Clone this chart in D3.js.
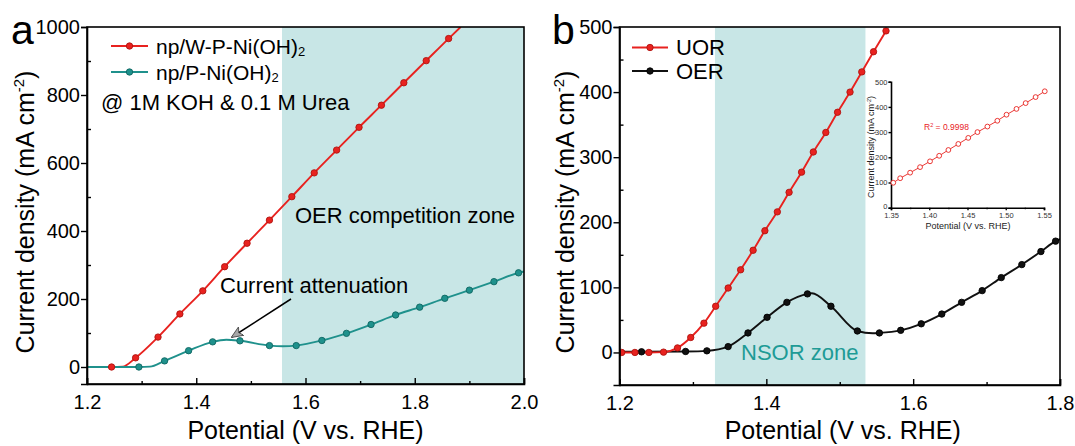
<!DOCTYPE html>
<html>
<head>
<meta charset="utf-8">
<script src="https://cdn.jsdelivr.net/npm/d3@7"></script>
<style>
  body { margin: 0; background: #fff; }
  svg { font-family: "Liberation Sans", Arial, sans-serif; }
  .domain { stroke: #000; stroke-width: 1.6; }
  .tick line { stroke: #000; stroke-width: 1.4; }
</style>
</head>
<body>
<script>
/*
DATA
*/
// panel a, np/W-P-Ni(OH)2 (red)
const aRedMarkV = [1.245, 1.289, 1.330, 1.370, 1.412, 1.452, 1.493, 1.534, 1.575, 1.616, 1.657, 1.698, 1.739, 1.780, 1.821, 1.862]
const aRedMarkJ = [0, 27, 88, 156, 224, 295, 364, 432, 501, 571, 638, 705, 770, 836, 901, 966]
const aRedLineV = [1.20, 1.265, 1.884]
const aRedLineJ = [0, 1, 1000]
// panel a, np/P-Ni(OH)2 (teal)
const aTealMarkV = [1.295, 1.342, 1.386, 1.430, 1.480, 1.534, 1.583, 1.630, 1.675, 1.720, 1.765, 1.809, 1.855, 1.900, 1.945, 1.990]
const aTealMarkJ = [0, 18, 48, 74, 77, 63, 63, 78, 99, 125, 153, 176, 202, 226, 251, 277]
const aTealLineV = [1.20, 1.315, 1.455, 1.558, 2.0]
const aTealLineJ = [0, 1, 80, 61, 281]

// panel b, UOR (red)
const bRedMarkV = [1.203, 1.221, 1.240, 1.260, 1.279, 1.297, 1.315, 1.331, 1.348, 1.365, 1.382, 1.398, 1.415, 1.431, 1.448, 1.464, 1.481, 1.497, 1.514, 1.530, 1.546, 1.563]
const bRedMarkJ = [0, 0, 0, 0.5, 7, 23, 45, 71, 99, 127, 157, 187, 216, 246, 277, 308, 338, 369, 400, 431, 462, 494]
const bRedLineV = [1.20]
const bRedLineJ = [0]
// panel b, OER (black)
const bBlackMarkV = [1.230, 1.290, 1.319, 1.348, 1.375, 1.401, 1.428, 1.456, 1.488, 1.524, 1.554, 1.583, 1.611, 1.639, 1.666, 1.694, 1.720, 1.748, 1.774, 1.794]
const bBlackMarkJ = [1, 1.5, 2.5, 9, 30, 54, 77, 90, 71, 33, 30, 34, 44, 59, 77, 95, 115, 135, 155, 171]
const bBlackLineV = [1.20, 1.462, 1.545, 1.80]
const bBlackLineJ = [1, 91, 29.5, 174]

// inset (linear region of UOR)
const insetV = [1.353, 1.362, 1.375, 1.388, 1.401, 1.413, 1.425, 1.438, 1.451, 1.463, 1.476, 1.489, 1.501, 1.514, 1.526, 1.539, 1.551]
const insetJ = [99, 117, 139, 161, 184, 206, 229, 253, 277, 300, 322, 345, 369, 392, 415, 439, 462]

// ticks
const aXTicks = [1.2, 1.4, 1.6, 1.8, 2.0]
const aXMinor = [1.3, 1.5, 1.7, 1.9]
const aYTicks = [0, 200, 400, 600, 800, 1000]
const aYMinor = [100, 300, 500, 700, 900]
const bXTicks = [1.2, 1.4, 1.6, 1.8]
const bXMinor = [1.3, 1.5, 1.7]
const bYTicks = [0, 100, 200, 300, 400, 500]
const bYMinor = [50, 150, 250, 350, 450]
const inXTicks = [1.35, 1.40, 1.45, 1.50, 1.55]
const inXMinor = [1.375, 1.425, 1.475, 1.525]
const inYTicks = [0, 100, 200, 300, 400, 500]

// shaded zones
const aZone = [1.557, 2.0]
const bZone = [1.33, 1.535]

/*
SET UP
*/
const W = 1075
const H = 446
const RED = "#e8221f"
const RED_DARK = "#b01410"
const TEAL = "#1f918c"
const TEAL_DARK = "#106662"
const BLACK = "#111"
const SHADE = "#c8e6e6"

const svg = d3.select("body")
  .append("svg")
  .attr("width", W)
  .attr("height", H);

svg.append("defs").append("marker")
  .attr("id", "arrow")
  .attr("viewBox", "0 0 12 10")
  .attr("refX", 11)
  .attr("refY", 5)
  .attr("markerWidth", 12)
  .attr("markerHeight", 10)
  .attr("markerUnits", "userSpaceOnUse")
  .attr("orient", "auto")
  .append("path")
  .attr("d", "M0,0 L12,5 L0,10 L3,5 Z")
  .attr("fill", "#a8a8a8")
  .attr("stroke", "#444")
  .attr("stroke-width", 0.8);

function zip(vs, js) {
  return vs.map((v, i) => ({v: v, j: js[i]}));
}

function linePoints(markV, markJ, lineV, lineJ) {
  return zip(markV, markJ).concat(zip(lineV, lineJ)).sort((p, q) => p.v - q.v);
}

/*
ONE PANEL
*/
function makePanel(opt) {
  const x = d3.scaleLinear().domain(opt.xDomain).range(opt.xRange);
  const y = d3.scaleLinear().domain(opt.yDomain).range(opt.yRange);
  const g = svg.append("g");

  const clipId = "clip-" + opt.name;
  svg.select("defs").append("clipPath").attr("id", clipId)
    .append("rect")
    .attr("x", opt.xRange[0]).attr("y", opt.yRange[1])
    .attr("width", opt.xRange[1] - opt.xRange[0])
    .attr("height", opt.yRange[0] - opt.yRange[1]);

  // shaded zone
  g.append("rect")
    .attr("x", x(opt.zone[0]))
    .attr("y", opt.yRange[1])
    .attr("width", x(opt.zone[1]) - x(opt.zone[0]))
    .attr("height", opt.yRange[0] - opt.yRange[1])
    .attr("fill", SHADE);

  // curves
  const line = d3.line()
    .x((d) => x(d.v))
    .y((d) => y(d.j))
    .curve(d3.curveMonotoneX);

  const plot = g.append("g").attr("clip-path", `url(#${clipId})`);
  opt.series.forEach((s) => {
    plot.append("path")
      .datum(linePoints(s.markV, s.markJ, s.lineV, s.lineJ))
      .attr("d", line)
      .attr("fill", "none")
      .attr("stroke", s.color)
      .attr("stroke-width", 1.9);
  });
  opt.series.forEach((s) => {
    plot.selectAll(null)
      .data(zip(s.markV, s.markJ))
      .join("circle")
      .attr("cx", (d) => x(d.v))
      .attr("cy", (d) => y(d.j))
      .attr("r", 3.2)
      .attr("fill", s.color)
      .attr("stroke", s.dark)
      .attr("stroke-width", 0.9);
  });

  // axes
  const bottom = opt.yRange[0];
  const left = opt.xRange[0];

  g.append("g")
    .attr("transform", `translate(0,${bottom})`)
    .call(d3.axisBottom(x).tickValues(opt.xTicks).tickSize(-6).tickPadding(11)
      .tickFormat(d3.format(".1f")))
    .call((a) => a.selectAll("text").attr("font-size", 20).attr("fill", "#000"));
  g.append("g")
    .attr("transform", `translate(0,${bottom})`)
    .call(d3.axisBottom(x).tickValues(opt.xMinor).tickSize(-3).tickFormat(""))
    .call((a) => a.select(".domain").remove());

  g.append("g")
    .attr("transform", `translate(${left},0)`)
    .call(d3.axisLeft(y).tickValues(opt.yTicks).tickSize(6).tickPadding(1)
      .tickFormat(d3.format("d")))
    .call((a) => a.selectAll("text").attr("font-size", 20).attr("fill", "#000"));
  g.append("g")
    .attr("transform", `translate(${left},0)`)
    .call(d3.axisLeft(y).tickValues(opt.yMinor).tickSize(-4).tickFormat(""))
    .call((a) => a.select(".domain").remove());

  // frame
  g.append("rect")
    .attr("x", opt.xRange[0]).attr("y", opt.yRange[1])
    .attr("width", opt.xRange[1] - opt.xRange[0])
    .attr("height", opt.yRange[0] - opt.yRange[1])
    .attr("fill", "none")
    .attr("stroke", "#000")
    .attr("stroke-width", 1.6);

  // titles
  g.append("text")
    .attr("x", (opt.xRange[0] + opt.xRange[1]) / 2 + opt.xTitleShift)
    .attr("y", 439)
    .attr("text-anchor", "middle")
    .attr("font-size", 25)
    .text("Potential (V vs. RHE)");

  const yt = g.append("text")
    .attr("transform", `translate(${opt.yTitleX},212) rotate(-90)`)
    .attr("text-anchor", "middle")
    .attr("font-size", 25);
  yt.append("tspan").text("Current density (mA cm");
  yt.append("tspan").attr("font-size", 15).attr("dy", -10).text("-2");
  yt.append("tspan").attr("dy", 10).text(")");

  g.append("text")
    .attr("x", opt.letterX)
    .attr("y", 43.5)
    .attr("font-size", 41)
    .text(opt.name);

  return {g: g, x: x, y: y};
}

function legendRow(g, x0, x1, yLine, color, dark, label, size, sub) {
  g.append("line")
    .attr("x1", x0).attr("x2", x1)
    .attr("y1", yLine).attr("y2", yLine)
    .attr("stroke", color).attr("stroke-width", 1.9);
  g.append("circle")
    .attr("cx", (x0 + x1) / 2).attr("cy", yLine)
    .attr("r", 3.2)
    .attr("fill", color).attr("stroke", dark).attr("stroke-width", 0.9);
  const t = g.append("text")
    .attr("x", x1 + 8)
    .attr("y", yLine + size * 0.36)
    .attr("font-size", size)
    .text(label);
  if (sub) {
    t.append("tspan").attr("font-size", 13).attr("dy", 2).text(sub);
  }
}

/*
PANEL A
*/
const pa = makePanel({
  name: "a",
  xDomain: [1.2, 2.0], xRange: [87, 524],
  yDomain: [-50, 1000], yRange: [384, 27],
  xTicks: aXTicks, xMinor: aXMinor, yTicks: aYTicks, yMinor: aYMinor,
  zone: aZone,
  xTitleShift: 0, yTitleX: 34, letterX: 11,
  series: [
    {markV: aRedMarkV, markJ: aRedMarkJ, lineV: aRedLineV, lineJ: aRedLineJ, color: RED, dark: RED_DARK},
    {markV: aTealMarkV, markJ: aTealMarkJ, lineV: aTealLineV, lineJ: aTealLineJ, color: TEAL, dark: TEAL_DARK}
  ]
});

legendRow(pa.g, 111, 148, 46, RED, RED_DARK, "np/W-P-Ni(OH)", 21, "2");
legendRow(pa.g, 111, 148, 72, TEAL, TEAL_DARK, "np/P-Ni(OH)", 21, "2");

pa.g.append("text").attr("x", 101).attr("y", 110).attr("font-size", 22)
  .text("@ 1M KOH & 0.1 M Urea");
pa.g.append("text").attr("x", 295).attr("y", 223).attr("font-size", 22)
  .text("OER competition zone");
pa.g.append("text").attr("x", 220).attr("y", 293).attr("font-size", 22)
  .text("Current attenuation");
pa.g.append("line")
  .attr("x1", 291).attr("y1", 299)
  .attr("x2", 232).attr("y2", 337)
  .attr("stroke", "#000").attr("stroke-width", 1.5)
  .attr("marker-end", "url(#arrow)");

/*
PANEL B
*/
const pb = makePanel({
  name: "b",
  xDomain: [1.2, 1.8], xRange: [619.5, 1060],
  yDomain: [-50, 500], yRange: [385, 27],
  xTicks: bXTicks, xMinor: bXMinor, yTicks: bYTicks, yMinor: bYMinor,
  zone: bZone,
  xTitleShift: 3, yTitleX: 574, letterX: 552,
  series: [
    {markV: bBlackMarkV, markJ: bBlackMarkJ, lineV: bBlackLineV, lineJ: bBlackLineJ, color: BLACK, dark: "#000"},
    {markV: bRedMarkV, markJ: bRedMarkJ, lineV: bRedLineV, lineJ: bRedLineJ, color: RED, dark: RED_DARK}
  ]
});

legendRow(pb.g, 632, 668, 47.5, RED, RED_DARK, "UOR", 22);
legendRow(pb.g, 632, 668, 71, BLACK, "#000", "OER", 22);

pb.g.append("text").attr("x", 741).attr("y", 360).attr("font-size", 22)
  .attr("fill", "#1e9b96")
  .text("NSOR zone");

/*
INSET
*/
const ix = d3.scaleLinear().domain([1.35, 1.55]).range([891, 1044]);
const iy = d3.scaleLinear().domain([0, 500]).range([207.7, 81.7]);
const ins = svg.append("g");

ins.append("g")
  .attr("transform", "translate(0,207.7)")
  .call(d3.axisBottom(ix).tickValues(inXTicks).tickSize(2.5).tickPadding(2.5)
    .tickFormat(d3.format(".2f")))
  .call((a) => a.select(".domain").attr("stroke-width", 1.2))
  .call((a) => a.selectAll(".tick line").attr("stroke-width", 0.8))
  .call((a) => a.selectAll("text").attr("font-size", 7.5).attr("fill", "#333"));
ins.append("g")
  .attr("transform", "translate(0,207.7)")
  .call(d3.axisBottom(ix).tickValues(inXMinor).tickSize(1.5).tickFormat(""))
  .call((a) => a.select(".domain").remove())
  .call((a) => a.selectAll(".tick line").attr("stroke-width", 0.8));
ins.append("g")
  .attr("transform", "translate(891,0)")
  .call(d3.axisLeft(iy).tickValues(inYTicks).tickSize(2.5).tickPadding(1))
  .call((a) => a.select(".domain").attr("stroke-width", 1.2))
  .call((a) => a.selectAll(".tick line").attr("stroke-width", 0.8))
  .call((a) => a.selectAll("text").attr("font-size", 7.5).attr("fill", "#333"))
  .call((a) => a.selectAll(".tick text").filter((d) => d === 0).attr("dy", "0.1em"));

ins.append("path")
  .datum(zip(insetV, insetJ))
  .attr("d", d3.line().x((d) => ix(d.v)).y((d) => iy(d.j)))
  .attr("fill", "none")
  .attr("stroke", RED)
  .attr("stroke-width", 0.9);
ins.selectAll(null)
  .data(zip(insetV, insetJ))
  .join("circle")
  .attr("cx", (d) => ix(d.v))
  .attr("cy", (d) => iy(d.j))
  .attr("r", 2.4)
  .attr("fill", "#fff")
  .attr("stroke", RED)
  .attr("stroke-width", 0.9);

const r2 = ins.append("text").attr("x", 924).attr("y", 130)
  .attr("font-size", 8.5).attr("fill", RED);
r2.append("tspan").text("R");
r2.append("tspan").attr("font-size", 5.5).attr("dy", -3.5).text("2");
r2.append("tspan").attr("dy", 3.5).text(" = 0.9998");

ins.append("text")
  .attr("x", 968).attr("y", 229)
  .attr("text-anchor", "middle")
  .attr("font-size", 9).attr("fill", "#222")
  .text("Potential (V vs. RHE)");
const iyt = ins.append("text")
  .attr("transform", "translate(874,147) rotate(-90)")
  .attr("text-anchor", "middle")
  .attr("font-size", 9).attr("fill", "#222");
iyt.append("tspan").text("Current density (mA cm");
iyt.append("tspan").attr("font-size", 5.5).attr("dy", -3.5).text("-2");
iyt.append("tspan").attr("dy", 3.5).text(")");
</script>
</body>
</html>
